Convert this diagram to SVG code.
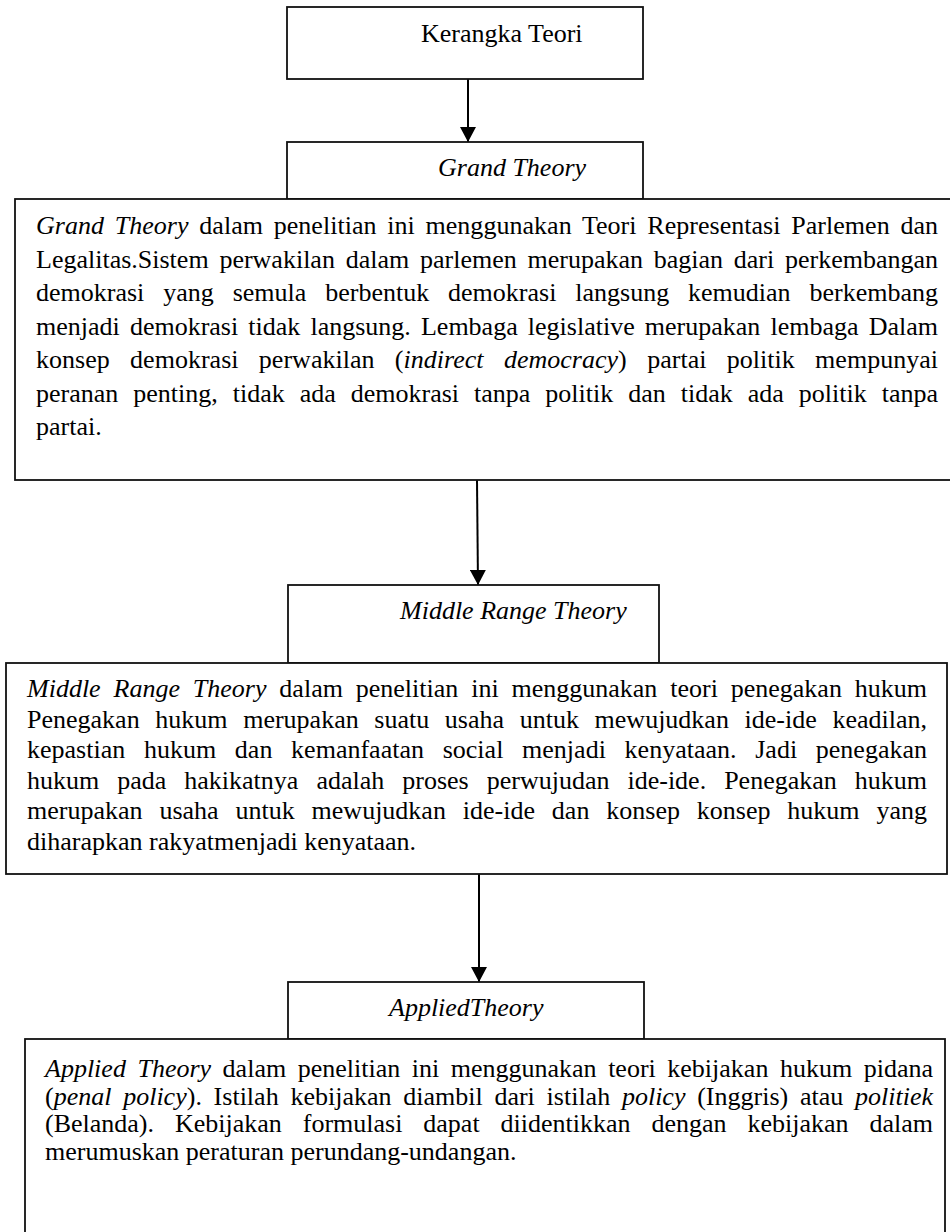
<svg xmlns="http://www.w3.org/2000/svg" width="950" height="1232" viewBox="0 0 950 1232">
<style>
  .box { fill: #ffffff; stroke: #111111; stroke-width: 1.8; }
  .t { font-family: "Liberation Serif", "Times New Roman", serif; font-size: 26px; fill: #000000; }
  .i { font-style: italic; }
  .conn { stroke: #000000; stroke-width: 2; fill: none; marker-end: url(#arrow); }
</style>
<defs>
  <marker id="arrow" viewBox="0 0 15 16" refX="15" refY="8" markerWidth="15" markerHeight="16" markerUnits="userSpaceOnUse" orient="auto">
    <path d="M0,0 L15,8 L0,16 z" fill="#000000"/>
  </marker>
</defs>
<rect x="0" y="0" width="950" height="1232" fill="#ffffff"/>

<g id="connectors">
  <line class="conn" x1="468" y1="79" x2="468" y2="142"/>
  <line class="conn" x1="477" y1="480" x2="478" y2="585"/>
  <line class="conn" x1="479" y1="874" x2="479" y2="982"/>
</g>

<g id="node-kerangka-teori">
  <rect class="box" x="287" y="7" width="356" height="72"/>
  <text class="t" x="421" y="42">Kerangka Teori</text>
</g>

<g id="node-grand-theory">
  <rect class="box" x="287" y="142" width="356" height="57"/>
  <text class="t i" x="438" y="176">Grand Theory</text>
</g>

<g id="node-grand-theory-body">
  <rect class="box" x="15" y="199" width="960" height="281"/>
  <text class="t" x="36" y="234" word-spacing="4.18" textLength="902" lengthAdjust="spacing"><tspan class="i">Grand Theory</tspan> dalam penelitian ini menggunakan Teori Representasi Parlemen dan</text>
  <text class="t" x="36" y="267.5" word-spacing="4.26" textLength="902" lengthAdjust="spacing">Legalitas.Sistem perwakilan dalam parlemen merupakan bagian dari perkembangan</text>
  <text class="t" x="36" y="301" word-spacing="12.4" textLength="902" lengthAdjust="spacing">demokrasi yang semula berbentuk demokrasi langsung kemudian berkembang</text>
  <text class="t" x="36" y="334.5" word-spacing="3.63" textLength="902" lengthAdjust="spacing">menjadi demokrasi tidak langsung. Lembaga legislative merupakan lembaga Dalam</text>
  <text class="t" x="36" y="368" word-spacing="13.8" textLength="902" lengthAdjust="spacing">konsep demokrasi perwakilan (<tspan class="i">indirect democracy</tspan>) partai politik mempunyai</text>
  <text class="t" x="36" y="401.5" word-spacing="8.47" textLength="902" lengthAdjust="spacing">peranan penting, tidak ada demokrasi tanpa politik dan tidak ada politik tanpa</text>
  <text class="t" x="36" y="435">partai.</text>
</g>

<g id="node-middle-range-theory">
  <rect class="box" x="288" y="585" width="371" height="78"/>
  <text class="t i" x="400" y="619">Middle Range Theory</text>
</g>

<g id="node-middle-range-theory-body">
  <rect class="box" x="6" y="663" width="941" height="211"/>
  <text class="t" x="27" y="697" word-spacing="6.37" textLength="900" lengthAdjust="spacing"><tspan class="i">Middle Range Theory</tspan> dalam penelitian ini menggunakan teori penegakan hukum</text>
  <text class="t" x="27" y="727.5" word-spacing="9.15" textLength="900" lengthAdjust="spacing">Penegakan hukum merupakan suatu usaha untuk mewujudkan ide-ide keadilan,</text>
  <text class="t" x="27" y="758" word-spacing="12.2" textLength="900" lengthAdjust="spacing">kepastian hukum dan kemanfaatan social menjadi kenyataan. Jadi penegakan</text>
  <text class="t" x="27" y="788.5" word-spacing="11.5" textLength="900" lengthAdjust="spacing">hukum pada hakikatnya adalah proses perwujudan ide-ide. Penegakan hukum</text>
  <text class="t" x="27" y="819" word-spacing="10.4" textLength="900" lengthAdjust="spacing">merupakan usaha untuk mewujudkan ide-ide dan konsep konsep hukum yang</text>
  <text class="t" x="27" y="849.5">diharapkan rakyatmenjadi kenyataan.</text>
</g>

<g id="node-applied-theory">
  <rect class="box" x="288" y="982" width="356" height="57"/>
  <text class="t i" x="389" y="1016">AppliedTheory</text>
</g>

<g id="node-applied-theory-body">
  <rect class="box" x="25" y="1039" width="920" height="220"/>
  <text class="t" x="45" y="1077" word-spacing="5.03" textLength="888" lengthAdjust="spacing"><tspan class="i">Applied Theory</tspan> dalam penelitian ini menggunakan teori kebijakan hukum pidana</text>
  <text class="t" x="45" y="1104.5" word-spacing="5.25" textLength="888" lengthAdjust="spacing">(<tspan class="i">penal policy</tspan>). Istilah kebijakan diambil dari istilah <tspan class="i">policy</tspan> (Inggris) atau <tspan class="i">politiek</tspan></text>
  <text class="t" x="45" y="1132" word-spacing="14.4" textLength="888" lengthAdjust="spacing">(Belanda). Kebijakan formulasi dapat diidentikkan dengan kebijakan dalam</text>
  <text class="t" x="45" y="1159.5">merumuskan peraturan perundang-undangan.</text>
</g>
</svg>
